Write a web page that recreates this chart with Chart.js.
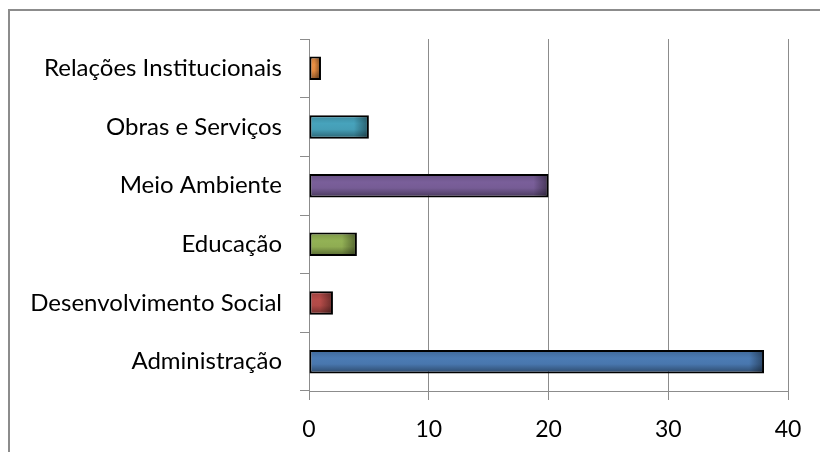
<!DOCTYPE html>
<html>
<head>
<meta charset="utf-8">
<script src="https://cdn.jsdelivr.net/npm/chart.js@4.4.0/dist/chart.umd.min.js"></script>
<style>
  html, body { margin: 0; padding: 0; background: #fff; overflow: hidden; }
  #wrap { position: relative; width: 820px; height: 452px; }
  #frame {
    position: absolute; left: 8px; top: 9px; width: 900px; height: 500px;
    border-left: 2px solid #8c8c8c; border-top: 2px solid #8c8c8c;
  }
  canvas { position: absolute; left: 0; top: 0; }
</style>
</head>
<body>
<div id="wrap">
  <div id="frame"></div>
  <canvas id="barChart" width="820" height="452"></canvas>
</div>
<script>
// secretarias, de baixo para cima no eixo
const categorias = ['Administração', 'Desenvolvimento Social', 'Educação', 'Meio Ambiente', 'Obras e Serviços', 'Relações Institucionais'];
const valores = [38, 2, 4, 20, 5, 1];
const cores = ['#4F81BD', '#C0504D', '#9BBB59', '#8064A2', '#4BACC6', '#F79646'];
const ticksX = [0, 10, 20, 30, 40];

const fonte = 'Lato, "Liberation Sans", sans-serif';

function escurece(hex, f) {
  const n = parseInt(hex.slice(1), 16);
  const r = Math.round(((n >> 16) & 255) * f);
  const g = Math.round(((n >> 8) & 255) * f);
  const b = Math.round((n & 255) * f);
  return 'rgb(' + r + ',' + g + ',' + b + ')';
}

// gradiente no estilo do Excel: claro no meio, escuro embaixo e no fim da barra
const sombraBarras = {
  id: 'sombraBarras',
  beforeDatasetsDraw(chart) {
    const ctx = chart.ctx;
    chart.getDatasetMeta(0).data.forEach((bar, i) => {
      const top = bar.y - bar.height / 2;
      const g = ctx.createLinearGradient(0, top, 0, top + bar.height);
      g.addColorStop(0, escurece(cores[i], 0.8));
      g.addColorStop(0.35, escurece(cores[i], 0.95));
      g.addColorStop(0.6, escurece(cores[i], 0.92));
      g.addColorStop(1, escurece(cores[i], 0.55));
      bar.options.backgroundColor = g;
    });
  },
  afterDatasetsDraw(chart) {
    const ctx = chart.ctx;
    chart.getDatasetMeta(0).data.forEach((bar) => {
      const top = bar.y - bar.height / 2 + 1;
      const h = bar.height - 2;
      const w = Math.min(14, (bar.x - bar.base) / 2);
      const g = ctx.createLinearGradient(bar.x - 1 - w, 0, bar.x - 1, 0);
      g.addColorStop(0, 'rgba(0,0,0,0)');
      g.addColorStop(1, 'rgba(0,0,0,0.4)');
      ctx.save();
      ctx.fillStyle = g;
      ctx.fillRect(bar.x - 1 - w, top, w, h);
      ctx.restore();
    });
  }
};

const ctxBar = document.getElementById('barChart').getContext('2d');
const barChart = new Chart(ctxBar, {
  type: 'bar',
  data: {
    labels: categorias,
    datasets: [{
      data: valores,
      backgroundColor: cores,
      borderColor: '#000',
      borderWidth: 2,
      borderSkipped: false,
      barPercentage: 0.4,
      categoryPercentage: 1
    }]
  },
  options: {
    indexAxis: 'y',
    responsive: false,
    animation: false,
    layout: { padding: { top: 39, right: 32, left: 0, bottom: 0 } },
    plugins: {
      legend: { display: false },
      tooltip: { enabled: false }
    },
    scales: {
      x: {
        min: 0,
        max: 40,
        afterBuildTicks: (scale) => { scale.ticks = ticksX.map(v => ({ value: v })); },
        afterFit: (scale) => { scale.height = 61; },
        grid: { color: '#8c8c8c', lineWidth: 1, tickLength: 9 },
        border: { color: '#8c8c8c', width: 1 },
        ticks: { color: '#000', padding: 16, font: { family: fonte, size: 23 } }
      },
      y: {
        reverse: true,
        afterFit: (scale) => { scale.width = 309; },
        grid: { color: '#8c8c8c', offset: true, drawOnChartArea: false, tickLength: 9 },
        border: { color: '#8c8c8c', width: 1 },
        ticks: { color: '#000', padding: 18, font: { family: fonte, size: 24 } }
      }
    }
  },
  plugins: [sombraBarras]
});
</script>
</body>
</html>
